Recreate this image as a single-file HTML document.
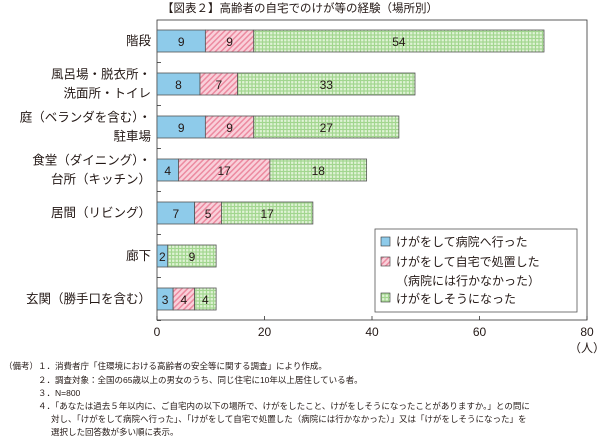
<!DOCTYPE html>
<html><head><meta charset="utf-8"><style>
body{margin:0;background:#fff;font-family:"Liberation Sans","Noto Sans CJK JP",sans-serif;}
svg text{font-family:"Liberation Sans","Noto Sans CJK JP",sans-serif;fill:#231815;}
</style></head><body>
<svg id="c" width="600" height="436" xmlns="http://www.w3.org/2000/svg">
<defs>
<pattern id="hatch" width="4" height="4" patternUnits="userSpaceOnUse" patternTransform="rotate(45)">
<rect width="4" height="4" fill="#f9d0da"/><rect width="1.5" height="4" fill="#ec8aa0"/></pattern>
<pattern id="grid" width="3.5" height="3.5" patternUnits="userSpaceOnUse">
<rect width="3.5" height="3.5" fill="#a2d68f"/><rect x="0.6" y="0.6" width="2.3" height="2.3" fill="#e0f3d6"/></pattern>
</defs>
<text x="300" y="12" font-size="11.5" text-anchor="middle">【図表２】高齢者の自宅でのけが等の経験（場所別）</text>
<g id="plot"></g>
<g>
<rect x="375" y="229" width="202" height="83" fill="#fff" stroke="#555" stroke-width="0.8"/>
<rect x="381" y="237" width="9" height="9" fill="#8ecbea" stroke="#333" stroke-width="0.6"/>
<text x="396" y="246" font-size="12">けがをして病院へ行った</text>
<rect x="381" y="257" width="9" height="9" fill="url(#hatch)" stroke="#333" stroke-width="0.6"/>
<text x="396" y="266" font-size="12">けがをして自宅で処置した</text>
<text x="396" y="285" font-size="12">（病院には行かなかった）</text>
<rect x="381" y="293" width="9" height="9" fill="url(#grid)" stroke="#333" stroke-width="0.6"/>
<text x="396" y="303" font-size="12">けがをしそうになった</text>
</g>
<g font-size="8.5">
<text x="4" y="369">（備考）１．消費者庁「住環境における高齢者の安全等に関する調査」により作成。</text>
<text x="38" y="383">２．調査対象：全国の65歳以上の男女のうち、同じ住宅に10年以上居住している者。</text>
<text x="38" y="396">３．N=800</text>
<text x="38" y="409">４．「あなたは過去５年以内に、ご自宅内の以下の場所で、けがをしたこと、けがをしそうになったことがありますか。」との問に</text>
<text x="51" y="422">対し、「けがをして病院へ行った」、「けがをして自宅で処置した（病院には行かなかった）」又は「けがをしそうになった」を</text>
<text x="51" y="435">選択した回答数が多い順に表示。</text>
</g>
</svg>
<script>
const categories=[["階段"],["風呂場・脱衣所・","洗面所・トイレ"],["庭（ベランダを含む）・","駐車場"],["食堂（ダイニング）・","台所（キッチン）"],["居間（リビング）"],["廊下"],["玄関（勝手口を含む）"]];
const hospital=[9,8,9,4,7,2,3];
const home=[9,7,9,17,5,0,4];
const nearMiss=[54,33,27,18,17,9,4];
const ticks=[0,20,40,60,80];
const NS="http://www.w3.org/2000/svg";
const g=document.getElementById('plot');
const x0=157,x1=587,yTop=20,yBot=320;
const xs=v=>x0+(x1-x0)*v/80;
const yc=i=>41+i*43;
function el(t,a,p){const e=document.createElementNS(NS,t);for(const k in a)e.setAttribute(k,a[k]);(p||g).appendChild(e);return e;}
const frame=el('rect',{x:x0,y:yTop,width:x1-x0,height:yBot-yTop,fill:'none',stroke:'#333','stroke-width':0.8});


ticks.forEach(t=>{
 const l=el('line',{x1:xs(t),x2:xs(t),y1:yBot,y2:yBot-4,stroke:'#333','stroke-width':0.8});
 
 
 const tx=el('text',{x:xs(t),y:yBot+16,'font-size':12,'text-anchor':'middle'});tx.textContent=t;
 
 
});
const u=el('text',{x:x1,y:yBot+32,'font-size':12,'text-anchor':'middle'});u.textContent='（人）';


const series=[[hospital,'#8ecbea','hospital'],[home,'url(#hatch)','home-treatment'],[nearMiss,'url(#grid)','near-miss']];
categories.forEach((c,i)=>{
 const y=yc(i);
 c.forEach((s,j)=>{
  const t=el('text',{x:x0-6,y:y+4+(j-(c.length-1)/2)*19,'font-size':12.5,'text-anchor':'end'});t.textContent=s;
  
  
 });
 const tk=el('line',{x1:x0,x2:x0+4,y1:y+21.5,y2:y+21.5,stroke:'#333','stroke-width':0.8});
 
 
 let acc=0;
 series.forEach(([arr,fill,nm])=>{
  const v=arr[i];if(!v)return;
  const r=el('rect',{x:xs(acc),y:y-11,width:xs(acc+v)-xs(acc),height:22,fill:fill,stroke:'#555','stroke-width':0.8});
  
  
  const t=el('text',{x:(xs(acc)+xs(acc+v))/2,y:y+5,'font-size':12,'text-anchor':'middle'});t.textContent=v;
  
  
  acc+=v;
 });
});
</script>
</body></html>
